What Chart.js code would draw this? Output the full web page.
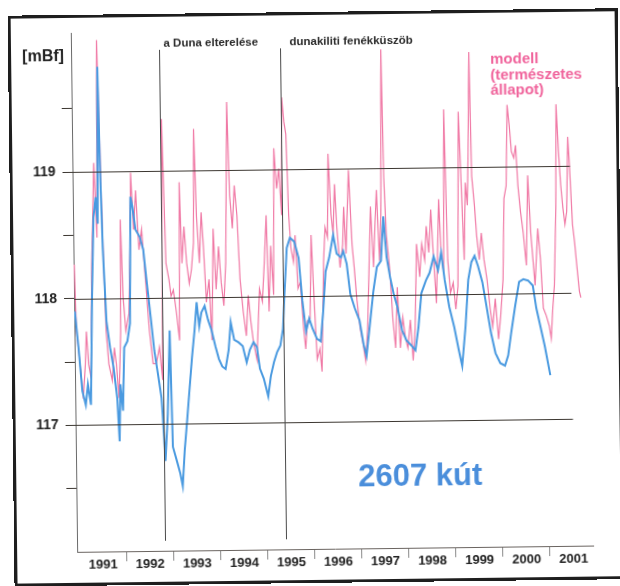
<!DOCTYPE html>
<html>
<head>
<meta charset="utf-8">
<title>2607 kút</title>
<script src="https://cdn.jsdelivr.net/npm/chart.js@4/dist/chart.umd.min.js"></script>
<style>
    html, body { margin: 0; padding: 0; background: #fff; overflow: hidden; }
    #wrap { position: relative; width: 620px; height: 586px; transform: rotate(-0.7deg); transform-origin: 310px 293px; }
    #chart { position: absolute; left: 0; top: 0; }
    #frame { position: absolute; left: 11px; top: 12px; width: 610px; height: 571px; border: 3px solid #1e1e1e; box-sizing: border-box; pointer-events: none; }
</style>
</head>
<body>
<div id="wrap">
    <canvas id="chart" width="620" height="586"></canvas>
    <div id="frame"></div>
</div>
<script>
// measured groundwater level, well 2607 (blue)
const measuredTime = [
    1990.96, 1991.03, 1991.10, 1991.17, 1991.22, 1991.28, 1991.33, 1991.38, 1991.43, 1991.47,
    1991.50, 1991.53, 1991.57, 1991.63, 1991.70, 1991.77, 1991.84, 1991.88, 1991.91, 1991.96,
    1992.00, 1992.07, 1992.13, 1992.17, 1992.21, 1992.27, 1992.36, 1992.43, 1992.50, 1992.57,
    1992.64, 1992.71, 1992.78, 1992.80, 1992.85, 1992.91, 1992.97, 1993.01, 1993.09, 1993.16,
    1993.21, 1993.26, 1993.32, 1993.37, 1993.44, 1993.50, 1993.55, 1993.60, 1993.65, 1993.72,
    1993.79, 1993.86, 1993.94, 1994.01, 1994.08, 1994.15, 1994.22, 1994.27, 1994.34, 1994.43,
    1994.52, 1994.60, 1994.67, 1994.75, 1994.82, 1994.88, 1994.96, 1995.05, 1995.11, 1995.18,
    1995.25, 1995.32, 1995.38, 1995.42, 1995.48, 1995.55, 1995.64, 1995.73, 1995.80, 1995.87,
    1995.94, 1996.01, 1996.10, 1996.18, 1996.24, 1996.30, 1996.38, 1996.47, 1996.54, 1996.63,
    1996.68, 1996.75, 1996.82, 1996.91, 1997.01, 1997.09, 1997.15, 1997.22, 1997.31, 1997.39,
    1997.48, 1997.54, 1997.60, 1997.67, 1997.74, 1997.82, 1997.91, 1998.00, 1998.10, 1998.19,
    1998.26, 1998.33, 1998.43, 1998.51, 1998.60, 1998.69, 1998.76, 1998.83, 1998.92, 1999.02,
    1999.11, 1999.18, 1999.26, 1999.33, 1999.40, 1999.47, 1999.54, 1999.63, 1999.72, 1999.80,
    1999.89, 1999.99, 2000.09, 2000.16, 2000.23, 2000.32, 2000.41, 2000.50, 2000.60, 2000.70,
    2000.77, 2000.85, 2000.94, 2001.05
];
const measuredLevel = [
    117.90, 117.61, 117.27, 117.16, 117.32, 117.16, 118.01, 118.64, 118.80, 118.59,
    119.83, 119.07, 118.40, 117.82, 117.61, 117.45, 117.21, 116.87, 117.32, 117.11,
    117.61, 117.66, 117.80, 118.80, 118.72, 118.54, 118.48, 118.38, 118.11, 117.85,
    117.58, 117.40, 117.21, 117.08, 116.71, 117.08, 117.74, 116.82, 116.71, 116.61,
    116.51, 116.79, 117.03, 117.24, 117.53, 117.74, 117.96, 117.77, 117.88, 117.93,
    117.82, 117.74, 117.61, 117.51, 117.45, 117.43, 117.58, 117.80, 117.66, 117.64,
    117.61, 117.48, 117.58, 117.64, 117.60, 117.43, 117.35, 117.21, 117.37, 117.48,
    117.56, 117.61, 117.74, 118.01, 118.38, 118.46, 118.43, 118.30, 117.96, 117.72,
    117.82, 117.74, 117.66, 117.64, 117.88, 118.19, 118.30, 118.48, 118.33, 118.30,
    118.35, 118.25, 118.01, 117.90, 117.80, 117.61, 117.52, 117.74, 118.03, 118.22,
    118.27, 118.62, 118.30, 118.14, 118.01, 117.90, 117.72, 117.64, 117.60, 117.56,
    117.74, 118.01, 118.11, 118.17, 118.30, 118.19, 118.33, 118.11, 117.90, 117.74,
    117.56, 117.43, 117.74, 118.11, 118.25, 118.30, 118.22, 118.09, 117.88, 117.69,
    117.53, 117.45, 117.43, 117.51, 117.69, 117.90, 118.09, 118.11, 118.10, 118.06,
    117.88, 117.74, 117.58, 117.35
];

// model, natural state (pink)
const modelTime = [
    1990.96, 1990.99, 1991.06, 1991.12, 1991.17, 1991.20, 1991.24, 1991.29, 1991.33, 1991.36,
    1991.40, 1991.45, 1991.49, 1991.52, 1991.56, 1991.62, 1991.67, 1991.74, 1991.79, 1991.83,
    1991.88, 1991.93, 1991.95, 1991.99, 1992.04, 1992.11, 1992.15, 1992.18, 1992.23, 1992.28,
    1992.34, 1992.40, 1992.47, 1992.54, 1992.61, 1992.68, 1992.75, 1992.81, 1992.85, 1992.91,
    1992.97, 1993.01, 1993.06, 1993.12, 1993.18, 1993.21, 1993.25, 1993.30, 1993.35, 1993.40,
    1993.45, 1993.50, 1993.53, 1993.57, 1993.62, 1993.67, 1993.71, 1993.76, 1993.82, 1993.87,
    1993.92, 1993.97, 1994.03, 1994.08, 1994.13, 1994.18, 1994.24, 1994.28, 1994.33, 1994.38,
    1994.43, 1994.48, 1994.54, 1994.60, 1994.65, 1994.70, 1994.75, 1994.82, 1994.89, 1994.95,
    1995.00, 1995.05, 1995.09, 1995.14, 1995.19, 1995.23, 1995.28, 1995.33, 1995.38, 1995.41,
    1995.45, 1995.49, 1995.53, 1995.57, 1995.62, 1995.66, 1995.71, 1995.76, 1995.82, 1995.86,
    1995.90, 1995.96, 1996.00, 1996.05, 1996.10, 1996.16, 1996.20, 1996.26, 1996.30, 1996.35,
    1996.38, 1996.43, 1996.47, 1996.51, 1996.55, 1996.61, 1996.67, 1996.70, 1996.74, 1996.81,
    1996.87, 1996.91, 1996.96, 1997.02, 1997.08, 1997.13, 1997.18, 1997.23, 1997.27, 1997.32,
    1997.36, 1997.40, 1997.45, 1997.49, 1997.53, 1997.56, 1997.60, 1997.66, 1997.72, 1997.77,
    1997.82, 1997.87, 1997.93, 1997.98, 1998.03, 1998.09, 1998.14, 1998.19, 1998.24, 1998.30,
    1998.35, 1998.41, 1998.45, 1998.50, 1998.55, 1998.60, 1998.65, 1998.72, 1998.76, 1998.81,
    1998.85, 1998.90, 1998.95, 1999.01, 1999.06, 1999.11, 1999.16, 1999.21, 1999.25, 1999.29,
    1999.33, 1999.36, 1999.40, 1999.43, 1999.48, 1999.52, 1999.57, 1999.62, 1999.67, 1999.73,
    1999.79, 1999.84, 1999.90, 1999.96, 2000.01, 2000.07, 2000.11, 2000.16, 2000.20, 2000.24,
    2000.28, 2000.33, 2000.37, 2000.41, 2000.46, 2000.51, 2000.57, 2000.62, 2000.67, 2000.71,
    2000.75, 2000.82, 2000.87, 2000.92, 2000.98, 2001.04, 2001.08, 2001.12, 2001.16, 2001.21,
    2001.24, 2001.28, 2001.32, 2001.36, 2001.40, 2001.44, 2001.48, 2001.51, 2001.56, 2001.60,
    2001.64, 2001.69, 2001.72
];
const modelLevel = [
    118.27, 117.74, 117.48, 117.21, 117.48, 117.74, 117.48, 117.37, 118.27, 118.59,
    119.07, 118.48, 120.04, 119.46, 118.67, 117.74, 117.48, 117.35, 117.61, 117.48,
    117.21, 117.74, 118.62, 118.01, 117.74, 117.88, 118.40, 118.99, 118.54, 118.85,
    118.38, 118.54, 118.14, 117.74, 117.48, 117.48, 117.61, 117.35, 119.41, 118.27,
    118.14, 118.01, 118.06, 117.88, 117.66, 118.91, 118.27, 118.56, 118.27, 118.11,
    118.22, 118.43, 119.33, 118.64, 118.27, 118.67, 118.40, 117.96, 118.14, 117.66,
    118.54, 118.06, 118.40, 118.11, 117.93, 118.27, 119.54, 118.80, 118.54, 118.88,
    118.64, 118.14, 117.88, 117.69, 118.01, 117.80, 117.64, 117.50, 118.06, 117.96,
    118.27, 118.64, 117.88, 118.40, 118.01, 119.17, 118.85, 119.01, 118.64, 119.57,
    119.38, 119.28, 118.64, 118.38, 118.27, 118.48, 118.06, 118.11, 117.74, 117.58,
    117.80, 117.82, 118.48, 117.96, 117.50, 117.58, 117.40, 118.27, 118.54, 118.46,
    119.12, 118.64, 118.48, 118.88, 118.54, 118.22, 118.40, 118.70, 118.33, 118.99,
    118.40, 118.22, 117.96, 117.74, 117.61, 117.48, 117.74, 118.27, 118.70, 118.22,
    118.54, 118.83, 118.27, 118.64, 119.94, 118.93, 118.48, 118.22, 117.80, 117.58,
    118.06, 117.58, 117.82, 117.66, 117.58, 117.80, 117.48, 117.74, 118.40, 118.14,
    118.40, 118.27, 118.54, 118.33, 118.67, 118.27, 117.93, 118.75, 118.33, 118.17,
    119.46, 118.27, 118.01, 118.09, 117.88, 118.06, 119.44, 118.80, 118.27, 118.88,
    118.70, 119.12, 119.91, 118.93, 118.70, 118.46, 118.27, 118.48, 118.27, 118.11,
    117.88, 117.74, 117.96, 117.64, 117.82, 118.11, 118.75, 118.85, 119.49, 119.33,
    119.12, 119.07, 119.17, 118.85, 118.64, 118.48, 118.22, 118.93, 118.48, 118.27,
    118.06, 118.51, 118.27, 117.88, 117.82, 117.74, 117.64, 117.88, 118.06, 118.67,
    119.49, 119.12, 118.85, 118.67, 118.54, 118.64, 119.23, 119.01, 118.54, 118.40,
    118.22, 118.01, 117.96
];

// axes
const yearLabels = [1991, 1992, 1993, 1994, 1995, 1996, 1997, 1998, 1999, 2000, 2001];
const yearBoundaries = [1992, 1993, 1994, 1995, 1996, 1997, 1998, 1999, 2000, 2001];
const yTickValues = [116.5, 117, 117.5, 118, 118.5, 119, 119.5];
const gridLevels = [117, 118, 119];
const gridEnd = 2001.52;

// events
const eventTimes = [1992.82, 1995.39];
const eventLabels = ['a Duna elterelése', 'dunakiliti fenékküszöb'];

const unitLabel = '[mBf]';
const modelLabel = ['modell', '(természetes', 'állapot)'];
const wellLabel = '2607 kút';

const FONT = '"Liberation Sans", Arial, sans-serif';
const PINK = '#f07aa6';
const BLUE = '#4a9ae0';

const overlayPlugin = {
    id: 'overlay',
    afterDatasetsDraw(chart) {
        const { ctx, chartArea, scales } = chart;
        const x = scales.x;
        const y = scales.y;
        ctx.save();

        // horizontal reference lines
        ctx.strokeStyle = '#3b3630';
        ctx.lineWidth = 1;
        gridLevels.forEach(level => {
            const py = Math.round(y.getPixelForValue(level)) + 0.5;
            ctx.beginPath();
            ctx.moveTo(chartArea.left, py);
            ctx.lineTo(x.getPixelForValue(gridEnd), py);
            ctx.stroke();
        });

        // event lines with their labels
        const labelGap = [4, 9];
        eventTimes.forEach((t, i) => {
            const px = Math.round(x.getPixelForValue(t)) + 0.5;
            ctx.strokeStyle = '#4a4a4a';
            ctx.beginPath();
            ctx.moveTo(px, 48);
            ctx.lineTo(px, chartArea.bottom - 10);
            ctx.stroke();
            ctx.font = 'bold 11.5px ' + FONT;
            ctx.fillStyle = '#2a2a2a';
            ctx.textBaseline = 'middle';
            ctx.textAlign = 'left';
            ctx.fillText(eventLabels[i], px + labelGap[i], 42);
        });

        // unit
        ctx.font = 'bold 16px ' + FONT;
        ctx.fillStyle = '#222';
        ctx.textAlign = 'center';
        ctx.fillText(unitLabel, 46, 54);

        // model legend text
        ctx.font = 'bold 15px ' + FONT;
        ctx.fillStyle = '#f0649c';
        ctx.textAlign = 'left';
        modelLabel.forEach((line, i) => {
            ctx.fillText(line, 493, 62 + i * 15.5);
        });

        // well name
        ctx.font = 'bold 31px ' + FONT;
        ctx.fillStyle = '#4a8edb';
        ctx.fillText(wellLabel, 356, 478);

        ctx.restore();
    }
};

function toPoints(times, values) {
    return times.map((t, i) => ({ x: t, y: values[i] }));
}

function renderChart() {
    const ctx = document.getElementById('chart').getContext('2d');
    new Chart(ctx, {
        type: 'line',
        data: {
            datasets: [
                {
                    label: 'mért',
                    data: toPoints(measuredTime, measuredLevel),
                    borderColor: BLUE,
                    borderWidth: 2,
                    fill: false,
                    pointRadius: 0,
                    order: 1
                },
                {
                    label: 'modell',
                    data: toPoints(modelTime, modelLevel),
                    borderColor: PINK,
                    borderWidth: 1.2,
                    fill: false,
                    pointRadius: 0,
                    order: 2
                }
            ]
        },
        options: {
            responsive: false,
            animation: false,
            layout: { padding: { top: 30, right: 30, left: 0, bottom: 0 } },
            plugins: {
                legend: { display: false },
                tooltip: { enabled: false }
            },
            scales: {
                x: {
                    type: 'linear',
                    min: 1990.947,
                    max: 2001.915,
                    afterFit: scale => { scale.height = 37; },
                    afterBuildTicks: scale => {
                        const values = yearBoundaries.concat(yearLabels.map(yr => yr + 0.5));
                        scale.ticks = values.sort((a, b) => a - b).map(v => ({ value: v }));
                    },
                    border: { display: true, color: '#6a6460', width: 1 },
                    grid: {
                        drawOnChartArea: false,
                        tickLength: 10,
                        tickColor: c => (c.tick && Number.isInteger(c.tick.value)) ? '#8a8a8a' : 'rgba(0,0,0,0)'
                    },
                    ticks: {
                        autoSkip: false,
                        maxRotation: 0,
                        padding: -4,
                        color: '#222',
                        font: { family: FONT, size: 13, weight: 'bold' },
                        callback: v => Number.isInteger(v) ? '' : String(Math.floor(v))
                    }
                },
                y: {
                    type: 'linear',
                    min: 116,
                    max: 120.1,
                    afterFit: scale => { scale.width = 74; },
                    afterBuildTicks: scale => {
                        scale.ticks = yTickValues.map(v => ({ value: v }));
                    },
                    border: { display: true, color: '#6a6a6a', width: 1 },
                    grid: {
                        drawOnChartArea: false,
                        tickLength: 10,
                        tickColor: '#3b3630'
                    },
                    ticks: {
                        padding: 7,
                        color: '#222',
                        font: { family: FONT, size: 14, weight: 'bold' },
                        callback: v => Number.isInteger(v) ? String(v) : ''
                    }
                }
            }
        },
        plugins: [overlayPlugin]
    });
}

renderChart();
</script>
</body>
</html>
